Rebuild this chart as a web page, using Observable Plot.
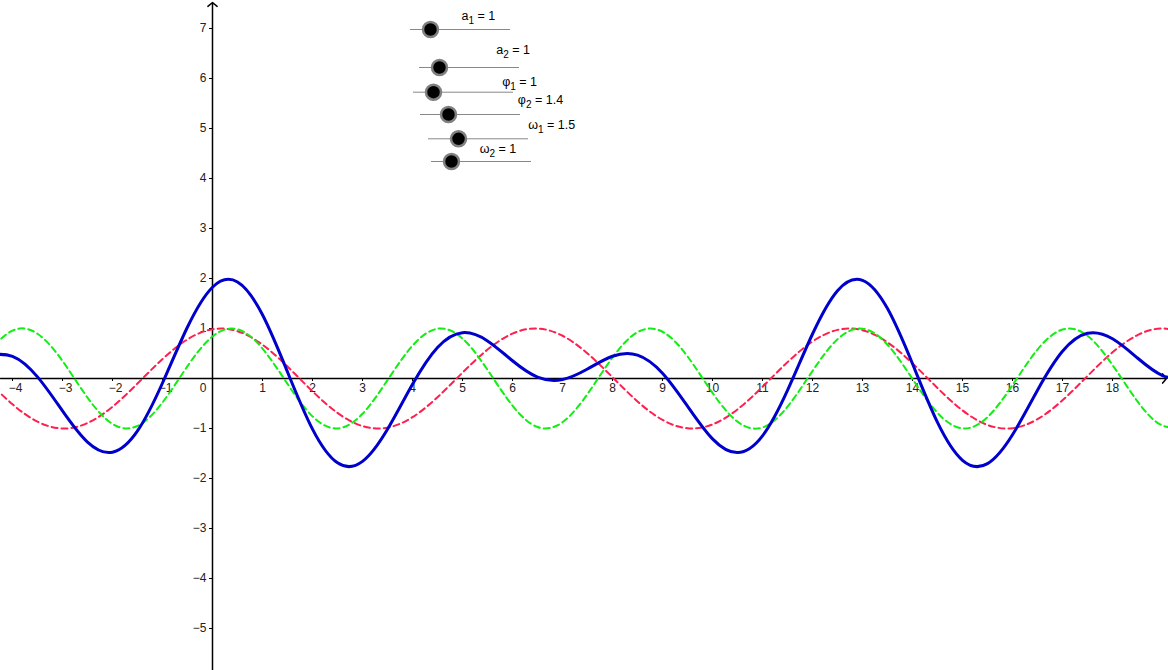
<!DOCTYPE html>
<html>
<head>
<meta charset="utf-8">
<script src="https://cdn.jsdelivr.net/npm/d3@7"></script>
<script src="https://cdn.jsdelivr.net/npm/@observablehq/plot@0.6"></script>
<style>
  html, body { margin: 0; padding: 0; background: #fff; }
  #chart svg { display: block; }
</style>
</head>
<body>
<div id="chart"></div>
<script>
// ---- data ----
const xValues = [-4.5, -4, -3.5, -3, -2.5, -2, -1.5, -1, -0.5, 0, 0.5, 1, 1.5, 2, 2.5, 3, 3.5, 4, 4.5, 5, 5.5, 6, 6.5, 7, 7.5, 8, 8.5, 9, 9.5, 10, 10.5, 11, 11.5, 12, 12.5, 13, 13.5, 14, 14.5, 15, 15.5, 16, 16.5, 17, 17.5, 18, 18.5, 19, 19.5];
// red dashed curve
const redValues = [-0.042, -0.516, -0.863, -1.000, -0.891, -0.565, -0.100, 0.389, 0.783, 0.985, 0.946, 0.676, 0.239, -0.256, -0.688, -0.952, -0.983, -0.773, -0.374, 0.117, 0.578, 0.899, 0.999, 0.855, 0.501, 0.025, -0.458, -0.828, -0.995, -0.919, -0.618, -0.166, 0.327, 0.740, 0.972, 0.966, 0.723, 0.303, -0.191, -0.638, -0.929, -0.993, -0.813, -0.435, 0.050, 0.523, 0.868, 1.000, 0.887];
// green dashed curve
const greenValues = [0.508, 0.959, 0.895, 0.351, -0.382, -0.909, -0.949, -0.479, 0.247, 0.841, 0.984, 0.598, -0.108, -0.757, -0.999, -0.706, -0.033, 0.657, 0.995, 0.799, 0.174, -0.544, -0.970, -0.875, -0.311, 0.420, 0.926, 0.935, 0.442, -0.288, -0.863, -0.980, -0.564, 0.150, 0.784, 0.997, 0.675, -0.009, -0.688, -0.998, -0.773, -0.132, 0.579, 0.979, 0.854, 0.271, -0.458, -0.941, -0.919];
// blue solid curve
const blueValues = [0.466, 0.443, 0.032, -0.649, -1.273, -1.474, -1.049, -0.090, 1.030, 1.826, 1.930, 1.274, 0.131, -1.013, -1.687, -1.658, -1.016, -0.116, 0.621, 0.916, 0.752, 0.355, 0.029, -0.020, 0.190, 0.445, 0.468, 0.107, -0.553, -1.207, -1.481, -1.146, -0.237, 0.890, 1.756, 1.963, 1.398, 0.294, -0.879, -1.636, -1.702, -1.125, -0.234, 0.544, 0.904, 0.794, 0.410, 0.059, -0.032];

const xTicks = [-4, -3, -2, -1, 1, 2, 3, 4, 5, 6, 7, 8, 9, 10, 11, 12, 13, 14, 15, 16, 17, 18];
const yTicks = [-5, -4, -3, -2, -1, 1, 2, 3, 4, 5, 6, 7];

// sliders: symbol, subscript, value, range
const sliderSymbols = ["a", "a", "φ", "φ", "ω", "ω"];
const sliderSubscripts = ["1", "2", "1", "2", "1", "2"];
const sliderValues = [1, 1, 1, 1.4, 1.5, 1];
const sliderMin = 0;
const sliderMax = 5;

// ---- layout (data coordinates) ----
const xDomain = [-4.24, 19.12];
const yDomain = [-5.84, 7.56];
const sliderLength = 2;
const sliderLineX = [3.96, 4.14, 4.02, 4.16, 4.32, 4.38];
const sliderLineY = [6.98, 6.22, 5.726, 5.28, 4.794, 4.34];
const sliderLabelX = [4.98, 5.674, 5.794, 6.106, 6.314, 5.346];
const sliderLabelY = [7.174, 6.494, 5.85, 5.494, 4.994, 4.506];

const curves = xValues.map((x, i) => ({x, red: redValues[i], green: greenValues[i], blue: blueValues[i]}));
const sliders = sliderSymbols.map((sym, i) => ({
  label: `${sym}${sliderSubscripts[i]} = ${sliderValues[i]}`,
  sym, sub: sliderSubscripts[i], val: sliderValues[i],
  x0: sliderLineX[i],
  x1: sliderLineX[i] + sliderLength,
  y: sliderLineY[i],
  dotX: sliderLineX[i] + (sliderValues[i] - sliderMin) / (sliderMax - sliderMin) * sliderLength,
  lx: sliderLabelX[i],
  ly: sliderLabelY[i]
}));

const fmt = d => (d < 0 ? "\u2212" + Math.abs(d) : String(d));
const font = "Liberation Sans, Arial, sans-serif";
const negTicks = xTicks.filter(d => d < 0);
const posTicks = xTicks.filter(d => d > 0);

const chart = Plot.plot({
  width: 1168,
  height: 670,
  margin: 0,
  style: {background: "#fff", fontFamily: font},
  x: {domain: xDomain, axis: null},
  y: {domain: yDomain, axis: null},
  marks: [
    // axes
    Plot.arrow([0], {x1: xDomain[0], x2: 19.08, y1: 0, y2: 0, stroke: "#000", strokeWidth: 1.5, headLength: 6, headAngle: 100}),
    Plot.arrow([0], {x1: 0, x2: 0, y1: yDomain[0], y2: 7.52, stroke: "#000", strokeWidth: 1.5, headLength: 6, headAngle: 100}),
    Plot.ruleX(xTicks, {x: d => d, y1: 0, y2: -0.06, stroke: "#000", strokeWidth: 1}),
    Plot.ruleY(yTicks, {y: d => d, x1: -0.06, x2: 0, stroke: "#000", strokeWidth: 1}),
    Plot.text(negTicks, {x: d => d, y: 0, dy: 10, dx: 3, text: fmt, fontSize: 12, fill: "#222", fontFamily: font}),
    Plot.text(posTicks, {x: d => d, y: 0, dy: 10, text: fmt, fontSize: 12, fill: "#222", fontFamily: font}),
    Plot.text(yTicks, {x: 0, y: d => d, dx: -6, textAnchor: "end", text: fmt, fontSize: 12, fill: "#222", fontFamily: font}),
    Plot.text([0], {x: 0, y: 0, dx: -6, dy: 10, textAnchor: "end", text: d => "0", fontSize: 12, fill: "#222", fontFamily: font}),
    // curves
    Plot.line(curves, {x: "x", y: "red", curve: "natural", stroke: "#ff1f4f", strokeWidth: 2, strokeDasharray: "6,4", clip: true}),
    Plot.line(curves, {x: "x", y: "green", curve: "natural", stroke: "#11ee11", strokeWidth: 2, strokeDasharray: "6,4", clip: true}),
    Plot.line(curves, {x: "x", y: "blue", curve: "natural", stroke: "#0000cc", strokeWidth: 3, clip: true}),
    // sliders
    Plot.ruleY(sliders, {y: "y", x1: "x0", x2: "x1", stroke: "#888", strokeWidth: 1}),
    Plot.dot(sliders, {x: "dotX", y: "y", r: 7.5, fill: "#000", stroke: "#808080", strokeWidth: 2.5}),
    Plot.text(sliders, {x: "lx", y: "ly", text: "label", textAnchor: "start", lineAnchor: "bottom", fontSize: 12.5, fill: "#000", fontFamily: font})
  ]
});

// render subscripts as real tspans
d3.select(chart).selectAll("text").each(function() {
  const s = sliders.find(s => s.label === this.textContent);
  if (!s) return;
  const t = d3.select(this);
  t.text(null);
  t.append("tspan").text(s.sym);
  t.append("tspan").attr("font-size", 10).attr("dy", 4).text(s.sub);
  t.append("tspan").attr("dy", -4).text(` = ${s.val}`);
});

document.getElementById("chart").appendChild(chart);
</script>
</body>
</html>
